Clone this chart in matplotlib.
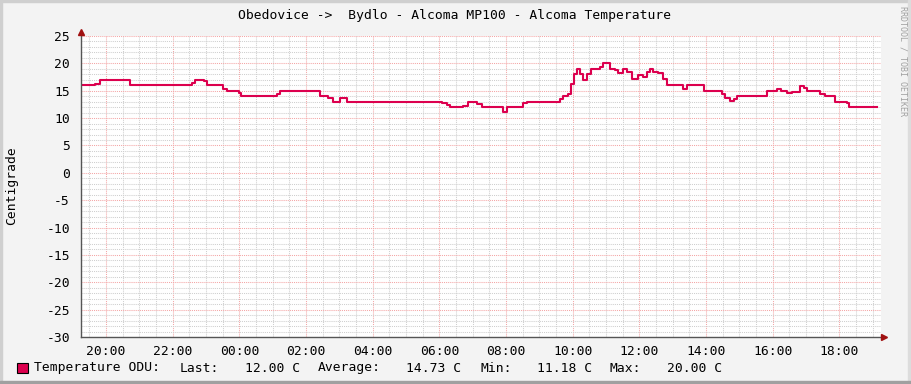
import datetime as dt
import matplotlib
matplotlib.use("Agg")
import matplotlib.pyplot as plt
import matplotlib.dates as mdates
from matplotlib.patches import Rectangle
from matplotlib.ticker import MultipleLocator

plt.rcParams['font.family'] = ['DejaVu Sans Mono']
plt.rcParams['axes.unicode_minus'] = False

# step changes of the temperature (clock time, value)
times = ["19:15", "19:40", "19:49", "20:43", "22:35", "22:40", "22:56", "23:02",
         "23:31", "23:38", "23:59", "00:03", "01:08", "01:13", "02:25", "02:40",
         "02:49", "03:01", "03:14", "06:05", "06:14", "06:19", "06:43", "06:52",
         "07:08", "07:17", "07:55", "08:02", "08:31", "08:38", "09:37", "09:43",
         "09:52", "09:57", "10:02", "10:08", "10:13", "10:18", "10:26", "10:33",
         "10:49", "10:55", "11:07", "11:16", "11:21", "11:30", "11:38", "11:47",
         "11:58", "12:06", "12:14", "12:19", "12:24", "12:33", "12:42", "12:50",
         "13:18", "13:26", "13:56", "14:29", "14:34", "14:43", "14:50", "14:56",
         "15:50", "16:08", "16:15", "16:26", "16:35", "16:49", "16:56", "17:02",
         "17:25", "17:34", "17:52", "18:13", "18:17", "19:08"]
temps = [16.0, 16.2, 17.0, 16.0, 16.5, 17.0, 16.7, 16.0,
         15.3, 15.0, 14.5, 14.0, 14.4, 15.0, 14.0, 13.6,
         13.0, 13.7, 13.0, 12.8, 12.4, 12.0, 12.3, 13.0,
         12.6, 12.0, 11.18, 12.0, 12.7, 13.0, 13.4, 14.0,
         14.4, 16.2, 18.0, 19.0, 18.0, 17.0, 18.0, 19.0,
         19.4, 20.0, 19.0, 18.7, 18.3, 19.0, 18.5, 17.2,
         17.8, 17.5, 18.5, 19.0, 18.5, 18.2, 17.2, 16.0,
         15.3, 16.0, 15.0, 14.4, 13.6, 13.2, 13.5, 14.0,
         15.0, 15.3, 15.0, 14.6, 14.8, 15.9, 15.5, 15.0,
         14.4, 14.0, 13.0, 12.8, 12.0, 12.0]

title = "Obedovice ->  Bydlo - Alcoma MP100 - Alcoma Temperature"
legend_items = [("Temperature ODU:", 34), ("Last:", 180), ("12.00 C", 245),
                ("Average:", 318), ("14.73 C", 406), ("Min:", 481),
                ("11.18 C", 537), ("Max:", 610), ("20.00 C", 667)]

# turn the clock times into datetimes, rolling over midnight
day0 = dt.datetime(2024, 1, 1)
stamps = []
day = 0
prev = None
for t in times:
    h, m = map(int, t.split(":"))
    if prev is not None and h * 60 + m < prev:
        day += 1
    prev = h * 60 + m
    stamps.append(day0 + dt.timedelta(days=day, hours=h, minutes=m))

W, H = 911, 384
fig = plt.figure(figsize=(W / 100, H / 100), dpi=100)
fig.patch.set_facecolor('#f3f3f3')

# 3d-ish frame round the image
fig.patches.append(Rectangle((0, 0), 2 / W, 1, transform=fig.transFigure, color='#cfcfcf'))
fig.patches.append(Rectangle((0, 1 - 2 / H), 1, 2 / H, transform=fig.transFigure, color='#cfcfcf'))
fig.patches.append(Rectangle((1 - 3 / W, 0), 3 / W, 1, transform=fig.transFigure, color='#dcdcdc'))
fig.patches.append(Rectangle((0, 0), 1, 3 / H, transform=fig.transFigure, color='#a0a0a0'))

ax = fig.add_axes([81 / W, 47 / H, 800 / W, 301 / H])
ax.set_facecolor('white')

ax.plot(stamps, temps, drawstyle='steps-post', color='#dc004e', lw=1.5)

ax.set_xlim(day0 + dt.timedelta(hours=19, minutes=15),
            day0 + dt.timedelta(days=1, hours=19, minutes=15))
ax.set_ylim(-30, 25)

ax.xaxis.set_major_locator(mdates.HourLocator(byhour=range(0, 24, 2)))
ax.xaxis.set_minor_locator(mdates.MinuteLocator(byminute=[0, 30]))
ax.xaxis.set_major_formatter(mdates.DateFormatter('%H:%M'))
ax.yaxis.set_major_locator(MultipleLocator(5))
ax.yaxis.set_minor_locator(MultipleLocator(1))

ax.grid(which='minor', color='#cfcfcf', lw=0.75, linestyle=(0, (1, 1)))
ax.grid(which='major', color='#f4a6a6', lw=0.75, linestyle=(0, (1, 1)))
ax.set_axisbelow(True)

for s in ax.spines.values():
    s.set_visible(False)
ax.tick_params(which='both', length=0, labelsize=9.4, colors='black', pad=6)
ax.tick_params(axis='y', pad=8)

# axis lines with the little arrows
ax.plot([0, 0], [0, 1.01], transform=ax.transAxes, color='#555555', lw=1, clip_on=False)
ax.plot([0, 1.0], [0, 0], transform=ax.transAxes, color='#555555', lw=1, clip_on=False)
ax.plot(0, 1.012, marker='^', ms=4, color='#a01010', transform=ax.transAxes, clip_on=False)
ax.plot(1.004, 0, marker='>', ms=4, color='#a01010', transform=ax.transAxes, clip_on=False)

fig.text(455 / W, 1 - 15 / H, title, ha='center', va='center', fontsize=9.4)
fig.text(12 / W, 1 - 186 / H, "Centigrade", rotation=90, ha='center', va='center', fontsize=9.4)
fig.text(903 / W, 1 - 6 / H, "RRDTOOL / TOBI OETIKER", rotation=270, ha='center', va='top',
         fontsize=6, color='#a0a0a0')

# legend line at the bottom
fig.patches.append(Rectangle((17 / W, 1 - 373 / H), 11 / W, 10 / H, transform=fig.transFigure,
                             facecolor='#dc004e', edgecolor='black', lw=0.8))
for txt, x in legend_items:
    fig.text(x / W, 1 - 368 / H, txt, ha='left', va='center', fontsize=9.4)

fig.savefig('out.png', dpi=100, facecolor=fig.get_facecolor())
